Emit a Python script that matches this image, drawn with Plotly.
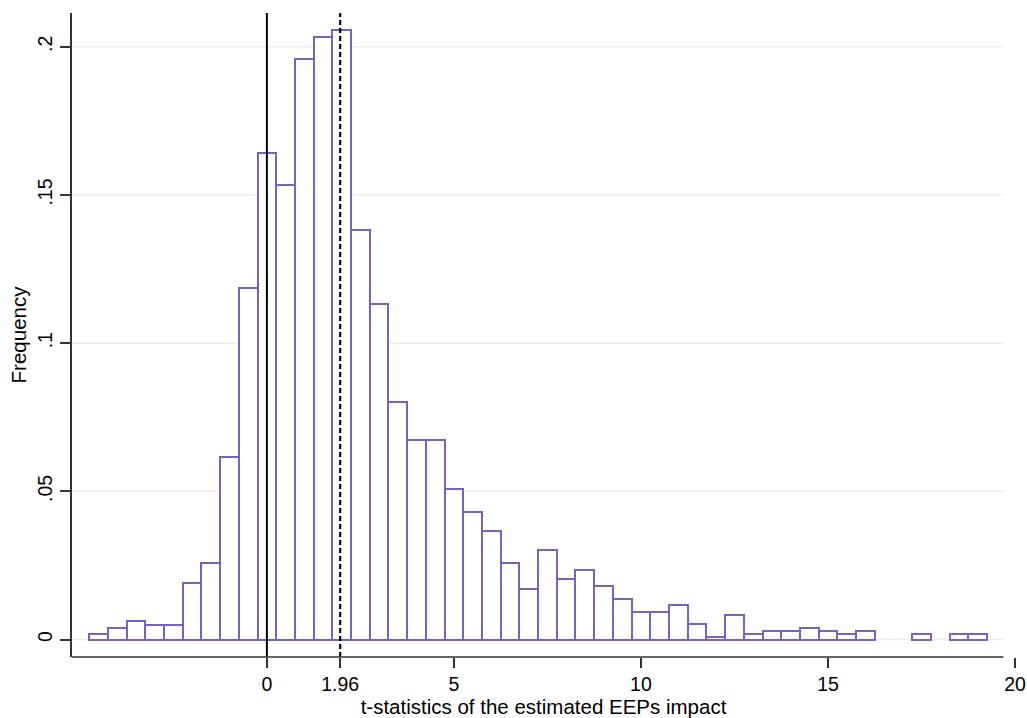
import plotly.graph_objects as go

# Bin centers (width 0.5) and density heights
bin_centers = [-4.5, -4.0, -3.5, -3.0, -2.5, -2.0, -1.5, -1.0, -0.5, 0.0,
               0.5, 1.0, 1.5, 2.0, 2.5, 3.0, 3.5, 4.0, 4.5, 5.0,
               5.5, 6.0, 6.5, 7.0, 7.5, 8.0, 8.5, 9.0, 9.5, 10.0,
               10.5, 11.0, 11.5, 12.0, 12.5, 13.0, 13.5, 14.0, 14.5, 15.0,
               15.5, 16.0, 16.5, 17.0, 17.5, 18.0, 18.5, 19.0]
frequency = [0.0017, 0.0039, 0.0061, 0.0048, 0.0048, 0.0191, 0.0257, 0.0617, 0.1185, 0.1643,
             0.1534, 0.1958, 0.2034, 0.2057, 0.1381, 0.1131, 0.0802, 0.0673, 0.0673, 0.0507,
             0.0431, 0.0367, 0.0259, 0.0171, 0.0302, 0.0203, 0.0236, 0.0181, 0.0138, 0.0093,
             0.0093, 0.0116, 0.0051, 0.0007, 0.0084, 0.0018, 0.0028, 0.0028, 0.0039, 0.0028,
             0.0018, 0.0028, 0.0, 0.0, 0.0018, 0.0, 0.0018, 0.0018]
bin_width = 0.5

x_tick_vals = [0, 1.96, 5, 10, 15, 20]
x_tick_text = ["0", "1.96", "5", "10", "15", "20"]
y_tick_vals = [0, 0.05, 0.1, 0.15, 0.2]
y_tick_text = ["0", ".05", ".1", ".15", ".2"]

ref_solid = 0
ref_dashed = 1.96

x_range = [-5.21, 20.0]
x_line_end = 19.69
y_range = [-0.0059, 0.2114]

bar_color = "rgb(122,96,192)"
grid_color = "rgb(232,239,243)"
font_family = "Liberation Sans, Arial, Helvetica, sans-serif"

fig = go.Figure()

fig.add_trace(go.Bar(
    x=[c for c, f in zip(bin_centers, frequency) if f > 0],
    y=[f for f in frequency if f > 0],
    width=bin_width,
    marker=dict(color="white", line=dict(color=bar_color, width=2)),
    showlegend=False,
    hoverinfo="x+y",
))

fig.add_trace(go.Scatter(
    x=[ref_solid, ref_solid], y=y_range, mode="lines",
    line=dict(color="black", width=2), showlegend=False, hoverinfo="skip",
))
fig.add_trace(go.Scatter(
    x=[ref_dashed, ref_dashed], y=y_range, mode="lines",
    line=dict(color="black", width=2.2, dash="5px,3px"), showlegend=False, hoverinfo="skip",
))

shapes = []
for yv in y_tick_vals:
    shapes.append(dict(type="line", xref="x", yref="y", x0=x_range[0], x1=x_line_end,
                       y0=yv, y1=yv, line=dict(color=grid_color, width=1.5), layer="below"))
shapes.append(dict(type="line", xref="x", yref="paper", x0=x_range[0], x1=x_line_end,
                   y0=0, y1=0, line=dict(color="#333333", width=1.5), layer="above"))

fig.update_layout(
    width=1027, height=718,
    margin=dict(l=72, r=12, t=13, b=61),
    paper_bgcolor="white", plot_bgcolor="white",
    font=dict(family=font_family, size=19, color="black"),
    bargap=0,
    shapes=shapes,
    xaxis=dict(
        range=x_range, tickmode="array", tickvals=x_tick_vals, ticktext=x_tick_text,
        ticks="outside", ticklen=10, tickwidth=1.5, tickcolor="#333333",
        showgrid=False, zeroline=False, showline=False, automargin=False,
        title=dict(text="t-statistics of the estimated EEPs impact", standoff=2,
                   font=dict(size=20.5)),
        tickfont=dict(size=19.5),
    ),
    yaxis=dict(
        range=y_range, tickmode="array", tickvals=y_tick_vals, ticktext=y_tick_text,
        ticks="outside", ticklen=10, tickwidth=1.5, tickcolor="#333333",
        tickangle=-90, showgrid=False, zeroline=False, automargin=False,
        showline=True, linecolor="#333333", linewidth=1.5,
        title=dict(text="Frequency", standoff=2, font=dict(size=20.5)),
        tickfont=dict(size=19.5),
    ),
)

fig.write_html(
    "out.html",
    config={"displayModeBar": False},
    post_script="document.body.style.margin='0';document.body.style.overflow='hidden';",
)
